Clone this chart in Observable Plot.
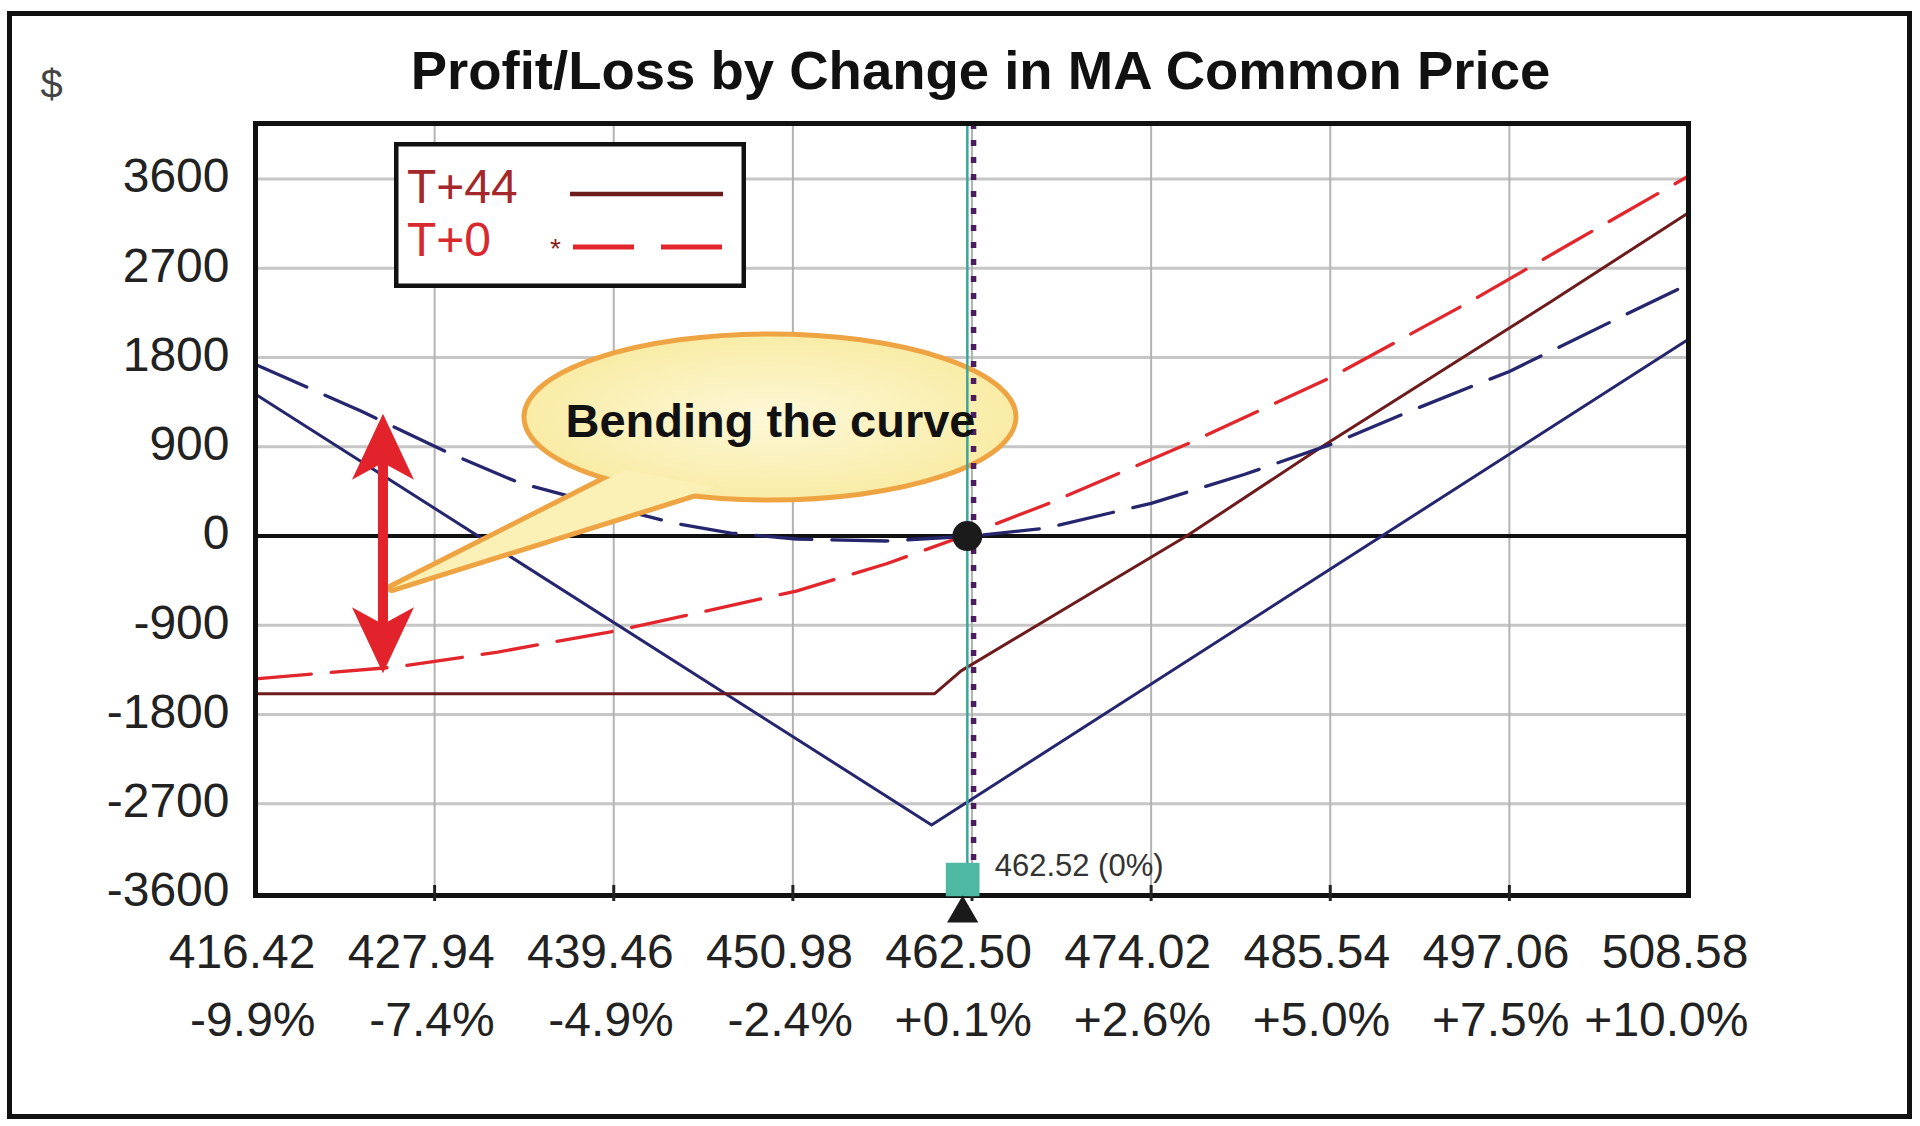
<!DOCTYPE html>
<html>
<head>
<meta charset="utf-8">
<script src="https://cdn.jsdelivr.net/npm/d3@7"></script>
<script src="https://cdn.jsdelivr.net/npm/@observablehq/plot@0.6"></script>
<style>
  html, body { margin: 0; padding: 0; background: #fff; }
  #wrap { position: relative; width: 1920px; height: 1126px; overflow: hidden;
          font-family: "Liberation Sans", Arial, Helvetica, sans-serif; background: #fff; }
  #chart { position: absolute; left: 0; top: 0; }
  #border { position: absolute; left: 7px; top: 11px; width: 1905px; height: 1108px;
            border: 5px solid #111; box-sizing: border-box; pointer-events: none; }
  #legend { position: absolute; left: 394px; top: 142px; }
</style>
</head>
<body>
<div id="wrap">
  <div id="chart"></div>
  <div id="border"></div>
  <div id="legend"></div>
</div>
<script>
// ---------------- data ----------------
const title = "Profit/Loss by Change in MA Common Price";
const yUnit = "$";

const yTicks = [-3600, -2700, -1800, -900, 0, 900, 1800, 2700, 3600];
const yTickLabels = ["-3600", "-2700", "-1800", "-900", "0", "900", "1800", "2700", "3600"];

const xTicks = [416.42, 427.94, 439.46, 450.98, 462.50, 474.02, 485.54, 497.06, 508.58];
const xPriceLabels = ["416.42", "427.94", "439.46", "450.98", "462.50", "474.02", "485.54", "497.06", "508.58"];
const xPctLabels = ["-9.9%", "-7.4%", "-4.9%", "-2.4%", "+0.1%", "+2.6%", "+5.0%", "+7.5%", "+10.0%"];

// navy solid (expiration of the original position)
const expiryPrice = [416.42, 459.9, 508.58];
const expiryPL    = [1430, -2914, 1985];

// T+44 (maroon solid)
const t44Price = [416.42, 460.1, 461.8, 476.3, 485.0, 499.7, 508.58];
const t44PL    = [-1590, -1590, -1360, 0, 900, 2360, 3260];

// T+0 (red dashed)
const t0Price = [416.42, 425.5, 432.0, 439.46, 445.0, 451.2, 457.0, 462.5, 467.3, 476.3, 485.6, 494.6, 501.0, 508.58];
const t0PL    = [-1440, -1320, -1170, -960, -770, -555, -280, 30, 320, 925, 1600, 2370, 2950, 3630];

// navy dashed (adjusted position, T+0)
const adjPrice = [416.42, 423.2, 428.8, 433.4, 437.8, 443.3, 447.0, 451.2, 457.0, 462.5, 467.3, 474.02, 480.0, 485.6, 491.0, 497.06, 504.5, 508.58];
const adjPL    = [1730, 1260, 840, 535, 352, 131, 30, -30, -50, 0, 80, 330, 620, 925, 1280, 1660, 2230, 2540];

const seriesNames = ["T+44", "T+0"];
const priceLabel = "462.52 (0%)";
const calloutText = "Bending the curve";

// ---------------- annotation anchors (data units) ----------------
const markerAt = { line: 462.2, dotted: 462.6, square: 461.9, dotY: 0 };
const callout = { cx: 449.54, cy: 1195, tip: [425.23, -529], base: [[440.22, 660], [446.0, 489]] };
const arrowSpan = { x: 424.65, top: 1227, bottom: -1390 };

// ---------------- styles ----------------
const C = {
  navy: "#26266f", maroon: "#6e1b1d", red: "#e2262c",
  gridH: "#c6c6c6", gridV: "#b3b3b3", ink: "#222",
  teal: "#3aa59b", tealSq: "#4fb8a2", purple: "#4b1c5e",
  calloutFill: "#fbf1b6", calloutStroke: "#efa443", arrow: "#e3232b"
};

const rows = (xs, ys) => xs.map((x, i) => ({ x, y: ys[i] }));
const expiry = rows(expiryPrice, expiryPL);
const t44 = rows(t44Price, t44PL);
const t0 = rows(t0Price, t0PL);
const adj = rows(adjPrice, adjPL);

function calloutMark(index, { x, y }) {
  const g = d3.create("svg:g");
  const defs = g.append("defs");
  const grad = defs.append("radialGradient").attr("id", "calloutGrad");
  grad.append("stop").attr("offset", "0%").attr("stop-color", "#fdf8d8");
  grad.append("stop").attr("offset", "100%").attr("stop-color", "#f9eca6");
  const cx = x(callout.cx), cy = y(callout.cy);
  const pts = [callout.tip, ...callout.base].map(([a, b]) => [x(a), y(b)]);
  const d = "M" + pts.map(p => p.join(",")).join("L") + "Z";
  g.append("path").attr("d", d).attr("fill", C.calloutFill)
    .attr("stroke", C.calloutStroke).attr("stroke-width", 10).attr("stroke-linejoin", "round");
  g.append("ellipse").attr("cx", cx).attr("cy", cy).attr("rx", 246).attr("ry", 83)
    .attr("fill", "url(#calloutGrad)").attr("stroke", C.calloutStroke).attr("stroke-width", 5);
  g.append("path").attr("d", d).attr("fill", C.calloutFill);
  return g.node();
}

function arrowMark(index, { x, y }) {
  const g = d3.create("svg:g").attr("fill", C.arrow);
  const ax = x(arrowSpan.x), yt = y(arrowSpan.top), yb = y(arrowSpan.bottom);
  const L = 66, N = 49, W = 31, S = 5;
  g.append("rect").attr("x", ax - S).attr("width", 2 * S)
    .attr("y", yt + N - 2).attr("height", (yb - yt) - 2 * N + 4);
  g.append("path").attr("d", `M${ax},${yt}L${ax + W},${yt + L}L${ax},${yt + N}L${ax - W},${yt + L}Z`);
  g.append("path").attr("d", `M${ax},${yb}L${ax + W},${yb - L}L${ax},${yb - N}L${ax - W},${yb - L}Z`);
  return g.node();
}

const chart = Plot.plot({
  width: 1920,
  height: 1126,
  marginLeft: 255,
  marginRight: 232,
  marginTop: 123,
  marginBottom: 231,
  x: { domain: [416.42, 508.58], axis: null },
  y: { domain: [-3625, 4160], axis: null },
  style: { fontFamily: "'Liberation Sans', Arial, Helvetica, sans-serif", background: "transparent", overflow: "visible" },
  marks: [
    // grid
    Plot.ruleY(yTicks.filter(d => d > -3600 && d !== 0), { stroke: C.gridH, strokeWidth: 3 }),
    Plot.ruleX(xTicks.slice(1, -1), { stroke: C.gridV, strokeWidth: 2 }),
    Plot.ruleY([0], { stroke: "#111", strokeWidth: 4 }),
    // series
    Plot.line(expiry, { x: "x", y: "y", stroke: C.navy, strokeWidth: 3 }),
    Plot.line(t44, { x: "x", y: "y", stroke: C.maroon, strokeWidth: 3 }),
    Plot.line(t0, { x: "x", y: "y", stroke: C.red, strokeWidth: 3.3, strokeDasharray: "56,20" }),
    Plot.line(adj, { x: "x", y: "y", stroke: C.navy, strokeWidth: 3.3, strokeDasharray: "56,20" }),
    // annotations
    calloutMark,
    arrowMark,
    Plot.ruleX([markerAt.line], { stroke: C.teal, strokeWidth: 2.5 }),
    Plot.ruleX([markerAt.dotted], { stroke: C.purple, strokeWidth: 5.5, strokeDasharray: "6,11" }),
    Plot.dot([{ x: markerAt.line, y: markerAt.dotY }], { x: "x", y: "y", r: 15, fill: "#1b1b1b" }),
    Plot.text([calloutText], { x: () => callout.cx, y: () => callout.cy, text: d => d,
      lineAnchor: "middle", fontSize: 47, fontWeight: "bold", fill: "#111", dy: 4 }),
    // frame + bottom ticks
    Plot.frame({ stroke: "#111", strokeWidth: 5 }),
    Plot.ruleX(xTicks.slice(1, -1), { y1: () => -3625, y2: () => -3625, insetTop: -10, insetBottom: -6, stroke: "#222", strokeWidth: 3 }),
    // current price marker
    Plot.dot([{ x: markerAt.square }], { x: "x", frameAnchor: "bottom", dy: -16, symbol: "square", r: 19, fill: C.tealSq }),
    Plot.dot([{ x: markerAt.square }], { x: "x", frameAnchor: "bottom", dy: 18, symbol: "triangle", r: 11.6, fill: "#1a1a1a" }),
    Plot.text([priceLabel], { x: () => markerAt.square, text: d => d, frameAnchor: "bottom", lineAnchor: "middle",
      textAnchor: "start", dx: 32, dy: -29, fontSize: 31, fill: "#333" }),
    // axes labels
    Plot.text(yTicks, { y: d => d, text: (d, i) => yTickLabels[i], frameAnchor: "left", lineAnchor: "middle",
      textAnchor: "end", dx: -26, dy: -2, fontSize: 48, fill: C.ink }),
    Plot.text(xTicks, { x: d => d, text: (d, i) => xPriceLabels[i], frameAnchor: "bottom", lineAnchor: "middle",
      textAnchor: "end", dx: 60, dy: 57, fontSize: 48, fill: C.ink }),
    Plot.text(xTicks, { x: d => d, text: (d, i) => xPctLabels[i], frameAnchor: "bottom", lineAnchor: "middle",
      textAnchor: "end", dx: 60, dy: 125, fontSize: 48, fill: C.ink }),
    // title and unit
    Plot.text([title], { text: d => d, frameAnchor: "top", lineAnchor: "bottom", dx: 8.5, dy: -35,
      fontSize: 54.5, fontWeight: "bold", fill: "#111" }),
    Plot.text([yUnit], { text: d => d, frameAnchor: "top-left", lineAnchor: "bottom", textAnchor: "middle",
      dx: -204, dy: -26, fontSize: 40, fill: "#444" })
  ]
});
document.getElementById("chart").appendChild(chart);

// legend (inside plot area)
const ns = "http://www.w3.org/2000/svg";
const leg = d3.select("#legend").append("svg").attr("xmlns", ns).attr("width", 352).attr("height", 146)
  .style("font-family", "'Liberation Sans', Arial, Helvetica, sans-serif");
leg.append("rect").attr("x", 2.25).attr("y", 2.25).attr("width", 347.5).attr("height", 141.5)
  .attr("fill", "#fff").attr("stroke", "#111").attr("stroke-width", 4.5);
leg.append("text").attr("x", 13).attr("y", 61).attr("font-size", 48).attr("fill", "#a3272b").text(seriesNames[0]);
leg.append("line").attr("x1", 176).attr("x2", 329).attr("y1", 52).attr("y2", 52)
  .attr("stroke", C.maroon).attr("stroke-width", 4.5);
leg.append("text").attr("x", 13).attr("y", 114).attr("font-size", 48).attr("fill", "#d8292e").text(seriesNames[1]);
leg.append("text").attr("x", 156).attr("y", 116).attr("font-size", 28).attr("fill", "#8b1f22").text("*");
leg.append("line").attr("x1", 179).attr("x2", 329).attr("y1", 105).attr("y2", 105)
  .attr("stroke", C.red).attr("stroke-width", 5).attr("stroke-dasharray", "61,27");
</script>
</body>
</html>
